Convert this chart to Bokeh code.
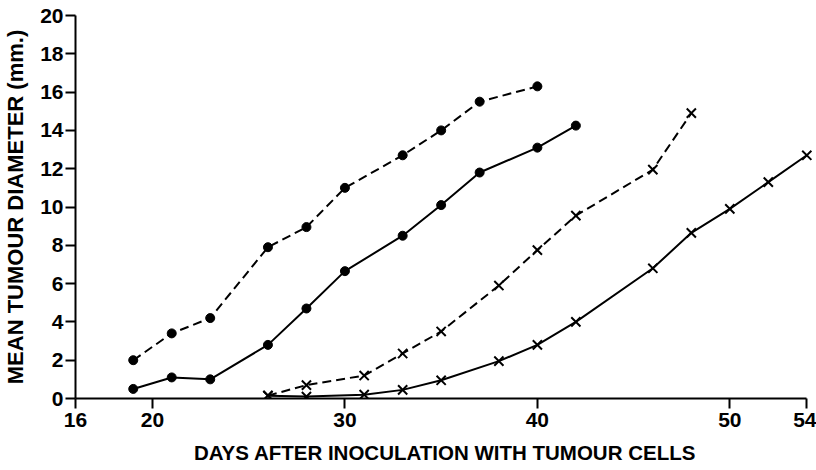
from bokeh.plotting import figure
from bokeh.models import Range1d, FixedTicker
from bokeh.embed import file_html
from bokeh.resources import INLINE

# Dashed line, filled dots
days_a = [19, 21, 23, 26, 28, 30, 33, 35, 37, 40]
diam_a = [2.0, 3.4, 4.2, 7.9, 8.95, 11.0, 12.7, 14.0, 15.5, 16.3]

# Solid line, filled dots
days_b = [19, 21, 23, 26, 28, 30, 33, 35, 37, 40, 42]
diam_b = [0.5, 1.1, 1.0, 2.8, 4.7, 6.65, 8.5, 10.1, 11.8, 13.1, 14.25]

# Dashed line, crosses
days_c = [26, 28, 31, 33, 35, 38, 40, 42, 46, 48]
diam_c = [0.15, 0.7, 1.2, 2.35, 3.5, 5.9, 7.75, 9.55, 11.95, 14.9]

# Solid line, crosses
days_d = [26, 28, 31, 33, 35, 38, 40, 42, 46, 48, 50, 52, 54]
diam_d = [0.15, 0.1, 0.2, 0.45, 0.95, 1.95, 2.8, 4.0, 6.8, 8.65, 9.9, 11.3, 12.7]

x_ticks = [16, 20, 30, 40, 50, 54]
y_ticks = [0, 2, 4, 6, 8, 10, 12, 14, 16, 18, 20]

x_title = "DAYS AFTER INOCULATION WITH TUMOUR CELLS"
y_title = "MEAN TUMOUR DIAMETER (mm.)"

FONT = "Liberation Sans"

p = figure(width=816, height=470, output_backend="svg", toolbar_location=None,
           x_range=Range1d(16, 54.4), y_range=Range1d(0, 20),
           min_border_left=72, min_border_right=2, min_border_top=15,
           min_border_bottom=72)
p.outline_line_color = None
p.grid.visible = False
p.background_fill_color = "white"
p.border_fill_color = "white"

for ax in (p.xaxis[0], p.yaxis[0]):
    ax.axis_line_width = 2
    ax.axis_line_color = "black"
    ax.major_tick_line_width = 2
    ax.major_tick_line_color = "black"
    ax.major_tick_out = 10
    ax.major_tick_in = 0
    ax.minor_tick_line_color = None
    ax.major_label_text_font = FONT
    ax.major_label_text_font_size = "21px"
    ax.major_label_text_font_style = "bold"
    ax.major_label_text_color = "black"
    ax.axis_label_text_font = FONT
    ax.axis_label_text_font_style = "bold"
    ax.axis_label_text_color = "black"

p.xaxis[0].ticker = FixedTicker(ticks=x_ticks)
p.yaxis[0].ticker = FixedTicker(ticks=y_ticks)
p.xaxis[0].bounds = (16, 54)
p.xaxis[0].major_label_standoff = 4
p.yaxis[0].major_label_standoff = 2
p.xaxis[0].axis_label = x_title
p.yaxis[0].axis_label = y_title
p.xaxis[0].axis_label_text_font_size = "20.5px"
p.yaxis[0].axis_label_text_font_size = "22px"
p.xaxis[0].axis_label_standoff = 11
p.yaxis[0].axis_label_standoff = 9

dash = "9 5"
p.line(days_a, diam_a, line_color="black", line_width=2, line_dash=dash)
p.scatter(days_a, diam_a, marker="circle", size=9, fill_color="black", line_color="black")

p.line(days_b, diam_b, line_color="black", line_width=2)
p.scatter(days_b, diam_b, marker="circle", size=9, fill_color="black", line_color="black")

p.line(days_c, diam_c, line_color="black", line_width=2, line_dash=dash)
p.scatter(days_c, diam_c, marker="x", size=13, line_color="black", line_width=2)

p.line(days_d, diam_d, line_color="black", line_width=2)
p.scatter(days_d, diam_d, marker="x", size=13, line_color="black", line_width=2)

open("out.html", "w").write(file_html(p, INLINE))
